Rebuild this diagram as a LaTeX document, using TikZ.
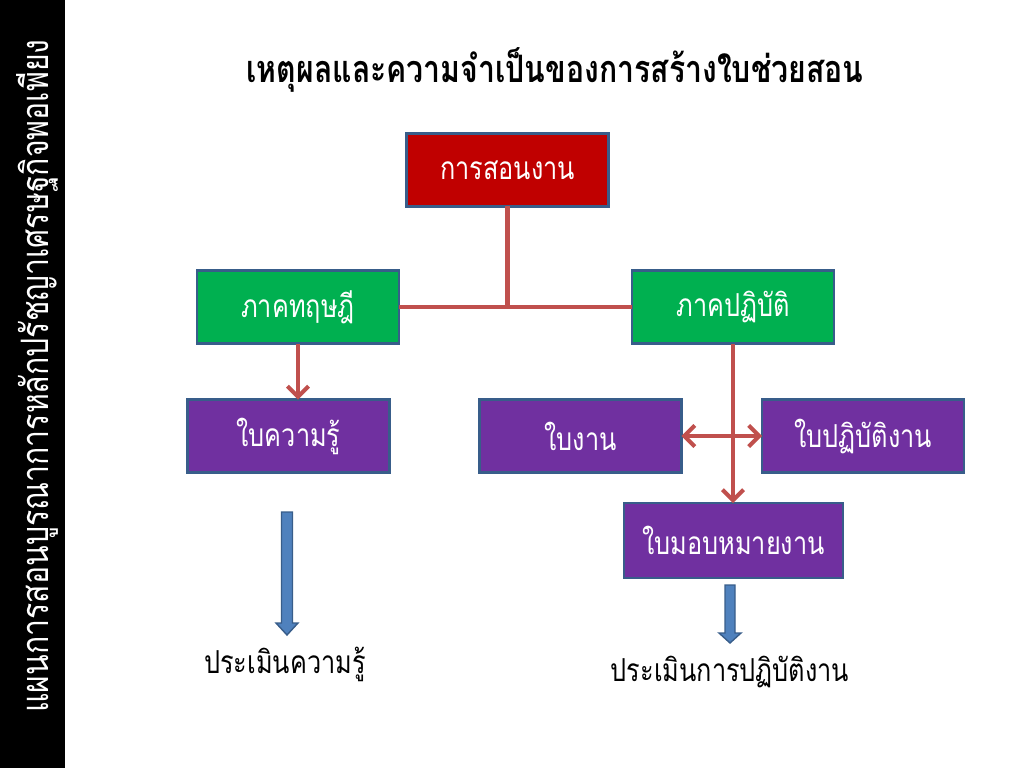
\documentclass[tikz,border=0pt]{standalone}
\usepackage{fontspec}
\newfontfamily\thaifont[Script=Thai,FakeStretch=0.8]{Loma}
\usetikzlibrary{arrows.meta}
\definecolor{boxline}{HTML}{385D8A}
\definecolor{teachred}{HTML}{C00000}
\definecolor{partgreen}{HTML}{00B050}
\definecolor{sheetpurple}{HTML}{7030A0}
\definecolor{linkred}{HTML}{C0504D}
\definecolor{evalblue}{HTML}{4F81BD}
\begin{document}
\begin{tikzpicture}[x=0.02cm,y=-0.02cm,inner sep=0pt,outer sep=0pt,
	box/.style={draw=boxline,line width=1.2pt,rectangle,minimum width=4.04cm,minimum height=1.46cm,text=white,font=\thaifont\fontsize{18}{21}\selectfont},
	link/.style={draw=linkred,line width=2.3pt},
	linkarrow/.style={link,-{Straight Barb[length=6pt,width=12pt]}},
	evalarrow/.style={draw=boxline,fill=evalblue,line width=0.8pt},
	evaltext/.style={font=\thaifont\fontsize{18}{21}\selectfont}]
	\useasboundingbox (0,0) rectangle (1024,768);
	\fill[black] (0,0) rectangle (65,768);
	\draw (37,376) node[rotate=90,text=white,font=\thaifont\fontsize{21.5}{24}\selectfont] (side) {แผนการสอนบูรณาการหลักปรัชญาเศรษฐกิจพอเพียง};
	\draw (555,70) node[font=\thaifont\bfseries\fontsize{21.5}{24}\selectfont] (title) {เหตุผลและความจำเป็นของการสร้างใบช่วยสอน};
	\draw (507.5,170) node[box,fill=teachred] (teach) {การสอนงาน};
	\draw (298,307) node[box,fill=partgreen] (theory) {ภาคทฤษฎี};
	\draw (733,307) node[box,fill=partgreen] (practice) {ภาคปฏิบัติ};
	\draw (288.5,436) node[box,fill=sheetpurple] (know) {ใบความรู้};
	\draw (580.5,436) node[box,fill=sheetpurple] (work) {ใบงาน};
	\draw (863,436) node[box,fill=sheetpurple] (prac) {ใบปฏิบัติงาน};
	\draw (733.5,540.5) node[box,fill=sheetpurple,minimum width=4.38cm,minimum height=1.5cm] (assign) {ใบมอบหมายงาน};
	\draw[link] (teach.south) -- (teach.south |- theory.east);
	\draw[link] (theory.east) -- (practice.west);
	\draw[linkarrow] (theory.south) -- (theory.south |- know.north);
	\draw[linkarrow] (practice.south) -- (practice.south |- assign.north);
	\draw[link,{Straight Barb[length=6pt,width=12pt]}-{Straight Barb[length=6pt,width=12pt]}] (work.east) -- (prac.west);
	\draw[evalarrow] (281.5,512) -- (292.5,512) -- (292.5,623) -- (298,623) -- (287,635) -- (276,623) -- (281.5,623) -- cycle;
	\draw[evalarrow] (725,585) -- (735,585) -- (735,633) -- (741,633) -- (730,643) -- (719,633) -- (725,633) -- cycle;
	\draw (285,664) node[evaltext] (evalknow) {ประเมินความรู้};
	\draw (730,672) node[evaltext] (evalprac) {ประเมินการปฏิบัติงาน};
\end{tikzpicture}
\end{document}
